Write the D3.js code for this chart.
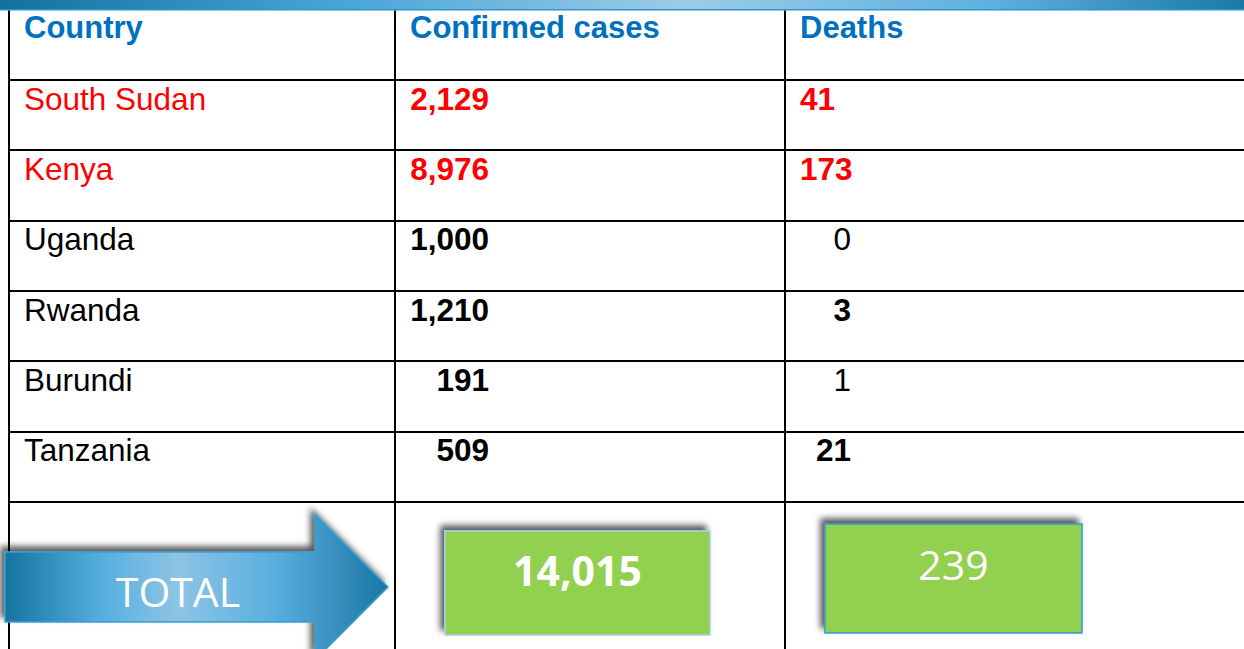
<!DOCTYPE html>
<html>
<head>
<meta charset="utf-8">
<script src="https://cdn.jsdelivr.net/npm/d3@7"></script>
<style>
  body { margin: 0; background: #fff; overflow: hidden; }
  svg { display: block; }
</style>
</head>
<body>
<div id="chart-area"></div>
<script>
// table data
var headers = ["Country", "Confirmed cases", "Deaths"];
var countries = ["South Sudan", "Kenya", "Uganda", "Rwanda", "Burundi", "Tanzania"];
var confirmed = [2129, 8976, 1000, 1210, 191, 509];
var deaths = [41, 173, 0, 3, 1, 21];
var highlighted = ["South Sudan", "Kenya"];
var plainDeaths = ["Uganda", "Burundi"];
var totalLabel = "TOTAL";

var width = 1244, height = 649;
var fmt = d3.format(",");

var svg = d3.select("#chart-area").append("svg")
    .attr("width", width)
    .attr("height", height);

var defs = svg.append("defs");

// banner gradient
var bg = defs.append("linearGradient").attr("id", "banner");
[[0, "#15709c"], [0.28, "#4aa6d8"], [0.55, "#9dcbe7"], [0.8, "#5cb0e0"], [1, "#1b78a4"]]
  .forEach(function (s) {
    bg.append("stop").attr("offset", s[0]).attr("stop-color", s[1]);
  });

// arrow gradient
var ag = defs.append("linearGradient").attr("id", "arrowGrad");
[[0, "#1574a0"], [0.25, "#55aedf"], [0.45, "#8dc4e5"], [0.7, "#5aafe0"], [1, "#1a76a2"]]
  .forEach(function (s) {
    ag.append("stop").attr("offset", s[0]).attr("stop-color", s[1]);
  });

var sh = defs.append("filter").attr("id", "shadow")
    .attr("x", "-20%").attr("y", "-30%").attr("width", "140%").attr("height", "160%");
sh.append("feDropShadow")
    .attr("dx", -4).attr("dy", -5).attr("stdDeviation", 3)
    .attr("flood-color", "#000").attr("flood-opacity", 0.65);

// scales
var y = d3.scaleBand()
    .domain(countries)
    .range([80, 502]);

var colX = d3.scaleOrdinal()
    .domain(headers)
    .range([24, 410, 800]);

var lineX = [9, 395, 785];

// top banner
svg.append("rect")
    .attr("x", 0).attr("y", 0)
    .attr("width", width).attr("height", 10)
    .attr("fill", "url(#banner)");
svg.append("rect")
    .attr("x", 0).attr("y", 9)
    .attr("width", width).attr("height", 1.5)
    .attr("fill", "#2a98c8");

// grid lines
var hLines = countries.map(function (c) { return y(c); }).concat([y.range()[1]]);
svg.selectAll(".hline")
    .data(hLines)
    .enter().append("line")
    .attr("class", "hline")
    .attr("x1", lineX[0] - 1).attr("x2", width)
    .attr("y1", function (d) { return Math.round(d); })
    .attr("y2", function (d) { return Math.round(d); })
    .attr("stroke", "#000").attr("stroke-width", 2);

svg.selectAll(".vline")
    .data(lineX)
    .enter().append("line")
    .attr("class", "vline")
    .attr("x1", function (d) { return d; })
    .attr("x2", function (d) { return d; })
    .attr("y1", 10.5).attr("y2", height)
    .attr("stroke", "#000").attr("stroke-width", 2);

// header
svg.selectAll(".head")
    .data(headers)
    .enter().append("text")
    .attr("class", "head")
    .attr("x", function (d) { return colX(d); })
    .attr("y", 38)
    .attr("font-family", "Liberation Sans, Arial, sans-serif")
    .attr("font-weight", "bold")
    .attr("font-size", "31px")
    .attr("fill", "#0070c0")
    .text(function (d) { return d; });

// rows
var rows = countries.map(function (c, i) {
  return {country: c, confirmed: confirmed[i], deaths: deaths[i]};
});

var row = svg.selectAll(".row")
    .data(rows)
    .enter().append("g")
    .attr("class", "row")
    .attr("transform", function (d) { return "translate(0," + (y(d.country) + 29.5) + ")"; })
    .attr("font-family", "Liberation Sans, Arial, sans-serif")
    .attr("font-size", "31.5px")
    .attr("fill", function (d) { return highlighted.includes(d.country) ? "#ff0000" : "#000"; });

row.append("text")
    .attr("x", colX("Country"))
    .text(function (d) { return d.country; });

row.append("text")
    .attr("x", 489)
    .attr("text-anchor", "end")
    .attr("font-weight", "bold")
    .text(function (d) { return fmt(d.confirmed); });

row.append("text")
    .attr("x", function (d) { return highlighted.includes(d.country) ? colX("Deaths") : 851; })
    .attr("text-anchor", function (d) { return highlighted.includes(d.country) ? "start" : "end"; })
    .attr("font-weight", function (d) { return plainDeaths.includes(d.country) ? "normal" : "bold"; })
    .text(function (d) { return fmt(d.deaths); });

// total arrow
var arrow = d3.path();
arrow.moveTo(5, 552);
arrow.lineTo(315, 552);
arrow.lineTo(315, 514);
arrow.lineTo(388, 587);
arrow.lineTo(315, 660);
arrow.lineTo(315, 622);
arrow.lineTo(5, 622);
arrow.closePath();

svg.append("path")
    .attr("d", arrow.toString())
    .attr("fill", "url(#arrowGrad)")
    .attr("stroke", "#3a9fcf")
    .attr("stroke-width", 1.5)
    .attr("filter", "url(#shadow)");

svg.append("text")
    .attr("x", 178).attr("y", 607)
    .attr("text-anchor", "middle")
    .attr("font-family", "Open Sans, sans-serif")
    .attr("font-size", "41px")
    .attr("fill", "#fff")
    .text(totalLabel);

// total boxes
var totals = [
  {value: d3.sum(confirmed), x: 445, y: 531, w: 265, h: 104, stroke: "#a9cfe8", weight: "bold", ty: 586},
  {value: d3.sum(deaths), x: 825, y: 524, w: 257, h: 109, stroke: "#2f9ad3", weight: "normal", ty: 580}
];

svg.selectAll(".tbox")
    .data(totals)
    .enter().append("rect")
    .attr("class", "tbox")
    .attr("x", function (d) { return d.x; })
    .attr("y", function (d) { return d.y; })
    .attr("width", function (d) { return d.w; })
    .attr("height", function (d) { return d.h; })
    .attr("fill", "#92d050")
    .attr("stroke", function (d) { return d.stroke; })
    .attr("stroke-width", 1.5)
    .attr("filter", "url(#shadow)");

svg.selectAll(".tval")
    .data(totals)
    .enter().append("text")
    .attr("class", "tval")
    .attr("x", function (d) { return d.x + d.w / 2; })
    .attr("y", function (d) { return d.ty; })
    .attr("text-anchor", "middle")
    .attr("font-family", "Open Sans, sans-serif")
    .attr("font-size", "41px")
    .attr("font-weight", function (d) { return d.weight; })
    .attr("fill", "#fff")
    .text(function (d) { return fmt(d.value); });
</script>
</body>
</html>
